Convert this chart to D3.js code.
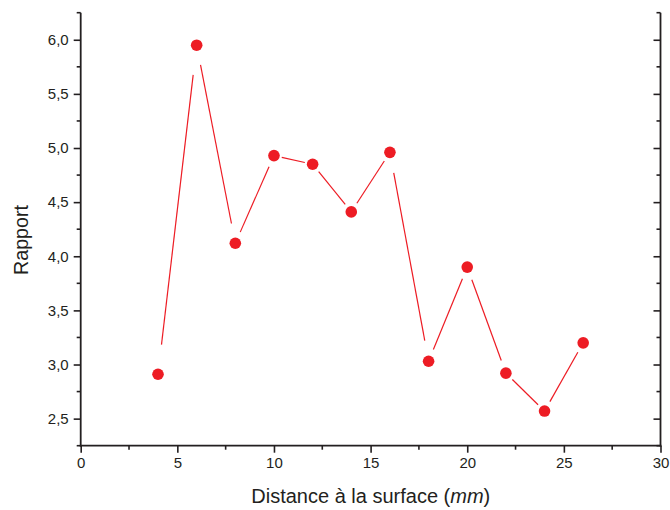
<!DOCTYPE html>
<html><head><meta charset="utf-8">
<script src="https://cdn.jsdelivr.net/npm/d3@7"></script>
<style>body{margin:0;background:#fff}svg{display:block}text{font-family:"Liberation Sans",Arial,sans-serif;fill:#231f20}</style>
</head><body>
<script>
const distances = [4, 6, 8, 10, 12, 14, 16, 18, 20, 22, 24, 26];
const rapport = [2.91, 5.95, 4.12, 4.93, 4.85, 4.41, 4.96, 3.03, 3.90, 2.92, 2.57, 3.20];
const xTicks = [0, 5, 10, 15, 20, 25, 30];
const yTicks = [2.5, 3.0, 3.5, 4.0, 4.5, 5.0, 5.5, 6.0];
const xMinor = [2.5, 7.5, 12.5, 17.5, 22.5, 27.5];
const yMinor = [2.25, 2.75, 3.25, 3.75, 4.25, 4.75, 5.25, 5.75, 6.25];

const W = 670, H = 510;
const m = {left: 80.7, right: 660.5, top: 12.7, bottom: 445.7};
const svg = d3.select("body").append("svg").attr("width", W).attr("height", H);
const x = d3.scaleLinear().domain([0, 30]).range([m.left, m.right]);
const y = d3.scaleLinear().domain([2.25, 6.25]).range([m.bottom, m.top]);
const axisColor = "#231f20";
const red = "#ed1c24";
const fmt = d => d3.format(".1f")(d).replace(".", ",");

// line segments with gaps
const pts = distances.map((d, i) => [x(d), y(rapport[i])]);
const segs = [];
for (let i = 0; i < pts.length - 1; i++) {
  const [x1, y1] = pts[i], [x2, y2] = pts[i + 1];
  const L = Math.hypot(x2 - x1, y2 - y1);
  const g = 5 + 0.075 * L;
  const ux = (x2 - x1) / L, uy = (y2 - y1) / L;
  segs.push([x1 + ux * g, y1 + uy * g, x2 - ux * g, y2 - uy * g]);
}
svg.append("g").selectAll("line").data(segs).join("line")
  .attr("x1", d => d[0]).attr("y1", d => d[1]).attr("x2", d => d[2]).attr("y2", d => d[3])
  .attr("stroke", red).attr("stroke-width", 1.2);

svg.append("g").selectAll("circle").data(distances).join("circle")
  .attr("cx", d => x(d)).attr("cy", (d, i) => y(rapport[i])).attr("r", 5.8).attr("fill", red);

// bottom axis
const gx = svg.append("g").attr("transform", `translate(0,${m.bottom})`)
  .call(d3.axisBottom(x).tickValues(xTicks).tickFormat(d3.format("d")).tickSize(7).tickPadding(5));
gx.append("g").selectAll("line").data(xMinor).join("line")
  .attr("x1", d => x(d)).attr("x2", d => x(d)).attr("y1", 0).attr("y2", 4);
// left axis
const gy = svg.append("g").attr("transform", `translate(${m.left},0)`)
  .call(d3.axisLeft(y).tickValues(yTicks).tickFormat(fmt).tickSize(7).tickPadding(5));
gy.append("g").selectAll("line").data(yMinor).join("line")
  .attr("y1", d => y(d)).attr("y2", d => y(d)).attr("x1", 0).attr("x2", -4);
// right axis (ticks inward)
const gr = svg.append("g").attr("transform", `translate(${m.right},0)`)
  .call(d3.axisLeft(y).tickValues(yTicks).tickFormat("").tickSize(7));
gr.append("g").selectAll("line").data(yMinor).join("line")
  .attr("y1", d => y(d)).attr("y2", d => y(d)).attr("x1", 0).attr("x2", -4);

[gx, gy, gr].forEach(g => {
  g.select(".domain").attr("d", null);
  g.selectAll("line").attr("stroke", axisColor).attr("stroke-width", 1.6);
  g.selectAll("text").attr("font-size", 15).attr("fill", axisColor)
    .style("font-family", '"Liberation Sans",Arial,sans-serif');
});
// axis lines
svg.append("line").attr("x1", m.left).attr("x2", m.left).attr("y1", m.top).attr("y2", m.bottom + 0.8)
  .attr("stroke", axisColor).attr("stroke-width", 1.8);
svg.append("line").attr("x1", m.right).attr("x2", m.right).attr("y1", m.top).attr("y2", m.bottom + 0.8)
  .attr("stroke", axisColor).attr("stroke-width", 1.8);
svg.append("line").attr("x1", m.left - 0.9).attr("x2", m.right + 0.9).attr("y1", m.bottom).attr("y2", m.bottom)
  .attr("stroke", axisColor).attr("stroke-width", 1.8);

// titles
const xt = svg.append("text").attr("x", 370.8).attr("y", 503)
  .attr("text-anchor", "middle").attr("font-size", 20);
xt.append("tspan").text("Distance à la surface (");
xt.append("tspan").attr("font-style", "italic").text("mm");
xt.append("tspan").text(")");
svg.append("text").attr("transform", `translate(28,240) rotate(-90)`)
  .attr("text-anchor", "middle").attr("font-size", 19.7).text("Rapport");
</script>
</body></html>
